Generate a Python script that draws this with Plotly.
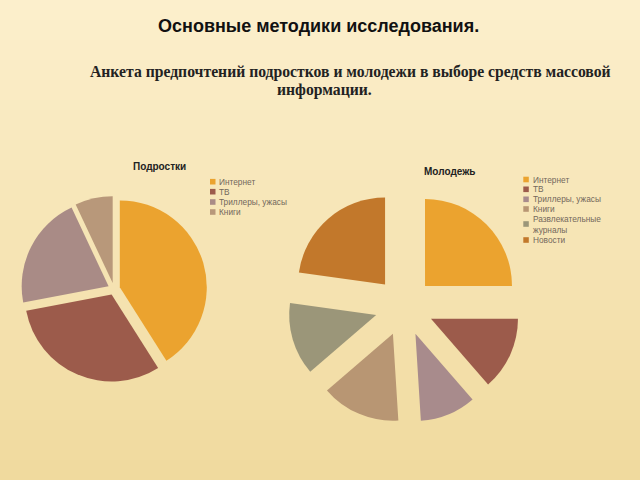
import plotly.graph_objects as go

# ---------------- data ----------------
teen_labels = ["Интернет", "ТВ", "Триллеры, ужасы", "Книги"]
teen_values = [41, 31, 21, 7]
teen_colors = ["#EBA32F", "#9C5B4B", "#A98B86", "#B8987A"]

youth_labels = ["Интернет", "ТВ", "Триллеры, ужасы", "Книги",
                "Развлекательные журналы", "Новости"]
youth_values = [25, 13.6, 10.4, 14.7, 13.5, 22.8]
youth_colors = ["#EBA32F", "#9C5B4B", "#A88B8C", "#B89673", "#9B9679", "#C2782B"]

main_title = "Основные методики исследования."
subtitle_1 = "Анкета предпочтений подростков и молодежи в выборе средств массовой"
subtitle_2 = "информации."
teen_title = "Подростки"
youth_title = "Молодежь"

W, H = 640, 480


def px(x):
    return x / W


def py(y):
    return 1 - y / H


fig = go.Figure()

fig.add_trace(go.Pie(
    labels=teen_labels, values=teen_values, sort=False, direction="clockwise",
    rotation=0, pull=[0.07] * len(teen_values),
    marker=dict(colors=teen_colors, line=dict(width=0)),
    textinfo="none", showlegend=False,
    domain=dict(x=[px(21), px(207)], y=[py(382), py(196)]),
))

fig.add_trace(go.Pie(
    labels=youth_labels, values=youth_values, sort=False, direction="clockwise",
    rotation=0, pull=[0.337] * len(youth_values),
    marker=dict(colors=youth_colors, line=dict(width=0)),
    textinfo="none", showlegend=False,
    domain=dict(x=[px(288), px(520.6)], y=[py(423), py(190.4)]),
))

shapes = []
# background vertical gradient bands
top = (252, 239, 204)
bot = (240, 218, 158)
n = 48
for i in range(n):
    t = i / (n - 1)
    c = tuple(int(round(top[k] + (bot[k] - top[k]) * t)) for k in range(3))
    shapes.append(dict(type="rect", xref="paper", yref="paper",
                       x0=0, x1=1, y0=py((i + 1) * H / n) - 0.001, y1=py(i * H / n),
                       fillcolor="rgb(%d,%d,%d)" % c, line=dict(width=0), layer="below"))

annotations = []
annotations.append(dict(text="<b>" + main_title + "</b>", x=px(318.5), y=py(26.5),
                        xref="paper", yref="paper", showarrow=False,
                        font=dict(family="Liberation Sans", size=18, color="#111111"),
                        xanchor="center", yanchor="middle"))
annotations.append(dict(text="<b>" + subtitle_1 + "</b>", x=px(350), y=py(72),
                        xref="paper", yref="paper", showarrow=False,
                        font=dict(family="Liberation Serif", size=15.7, color="#222222"),
                        xanchor="center", yanchor="middle"))
annotations.append(dict(text="<b>" + subtitle_2 + "</b>", x=px(324), y=py(89.5),
                        xref="paper", yref="paper", showarrow=False,
                        font=dict(family="Liberation Serif", size=15.7, color="#222222"),
                        xanchor="center", yanchor="middle"))
annotations.append(dict(text="<b>" + teen_title + "</b>", x=px(131), y=py(166.5),
                        xref="paper", yref="paper", showarrow=False,
                        font=dict(family="Liberation Sans", size=10, color="#222222"),
                        xanchor="left", yanchor="middle"))
annotations.append(dict(text="<b>" + youth_title + "</b>", x=px(422), y=py(171.5),
                        xref="paper", yref="paper", showarrow=False,
                        font=dict(family="Liberation Sans", size=10, color="#222222"),
                        xanchor="left", yanchor="middle"))

# left legend
teen_leg_y = [181.7, 191.7, 202, 212]
for lab, col, y in zip(teen_labels, teen_colors, teen_leg_y):
    shapes.append(dict(type="rect", xref="paper", yref="paper",
                       x0=px(210), x1=px(215.5), y0=py(y + 2.8), y1=py(y - 2.8),
                       fillcolor=col, line=dict(width=0)))
    annotations.append(dict(text=lab, x=px(216.5), y=py(y), xref="paper", yref="paper",
                            showarrow=False, xanchor="left", yanchor="middle",
                            font=dict(family="Liberation Sans", size=8.3, color="#73685c")))

# right legend
youth_leg_y = [179.5, 189.3, 199.3, 209, 224, 240]
for lab, col, y in zip(youth_labels, youth_colors, youth_leg_y):
    shapes.append(dict(type="rect", xref="paper", yref="paper",
                       x0=px(523.3), x1=px(528.8), y0=py(y + 2.8), y1=py(y - 2.8),
                       fillcolor=col, line=dict(width=0)))
    txt = lab.replace(" ", "<br>") if len(lab) > 18 else lab
    annotations.append(dict(text=txt, x=px(530.5), y=py(y), xref="paper", yref="paper",
                            showarrow=False, xanchor="left", yanchor="middle", align="left",
                            font=dict(family="Liberation Sans", size=8.3, color="#73685c")))

fig.update_layout(
    width=W, height=H, margin=dict(l=0, r=0, t=0, b=0),
    paper_bgcolor="#F7E7BA", plot_bgcolor="#F7E7BA",
    shapes=shapes, annotations=annotations, showlegend=False,
)

fig.write_html("out.html")
